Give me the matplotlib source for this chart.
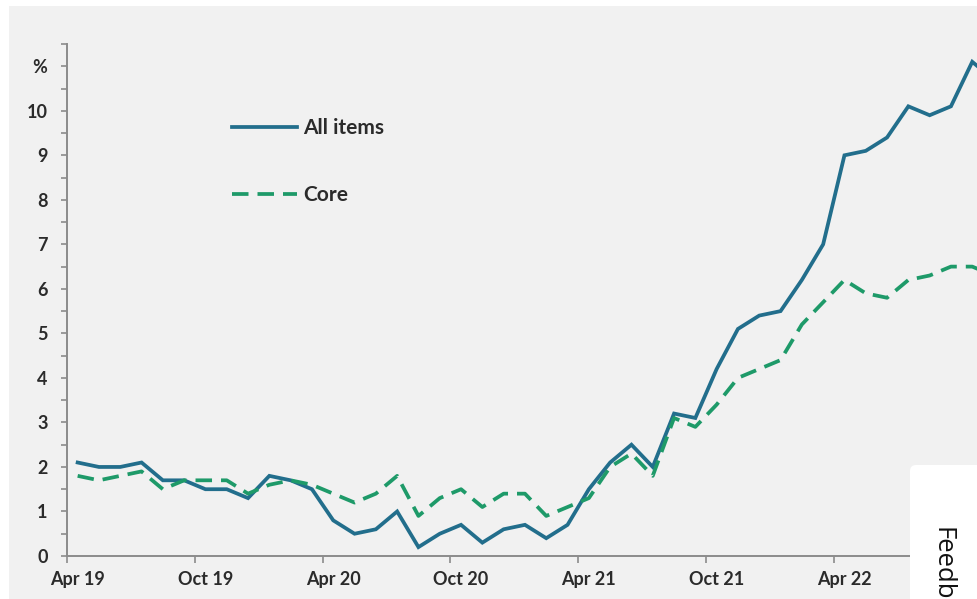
import matplotlib
matplotlib.use('Agg')
import matplotlib.pyplot as plt
from matplotlib.patches import Rectangle, FancyBboxPatch
from matplotlib.transforms import IdentityTransform
import numpy as np

# 数据：2019年4月 - 2022年11月，同比 %
all_items = [2.1, 2.0, 2.0, 2.1, 1.7, 1.7, 1.5, 1.5, 1.3,
             1.8, 1.7, 1.5, 0.8, 0.5, 0.6, 1.0, 0.2, 0.5, 0.7, 0.3, 0.6,
             0.7, 0.4, 0.7, 1.5, 2.1, 2.5, 2.0, 3.2, 3.1, 4.2, 5.1, 5.4,
             5.5, 6.2, 7.0, 9.0, 9.1, 9.4, 10.1, 9.9, 10.1, 11.1, 10.7]
core = [1.8, 1.7, 1.8, 1.9, 1.5, 1.7, 1.7, 1.7, 1.4,
        1.6, 1.7, 1.6, 1.4, 1.2, 1.4, 1.8, 0.9, 1.3, 1.5, 1.1, 1.4,
        1.4, 0.9, 1.1, 1.3, 2.0, 2.3, 1.8, 3.1, 2.9, 3.4, 4.0, 4.2,
        4.4, 5.2, 5.7, 6.2, 5.9, 5.8, 6.2, 6.3, 6.5, 6.5, 6.3]
x_labels = ['Apr 19', 'Oct 19', 'Apr 20', 'Oct 20', 'Apr 21', 'Oct 21', 'Apr 22']
y_labels = ['0', '1', '2', '3', '4', '5', '6', '7', '8', '9', '10', '%']

W, H = 978, 599
blue = '#226E8C'
green = '#1E9A69'
axis_gray = '#8C8C8C'
txt = '#2B2B2B'

plt.rcParams['font.family'] = ['Lato', 'DejaVu Sans']

fig = plt.figure(figsize=(W / 100, H / 100), dpi=100, facecolor='white')
# 灰色底板（放在坐标轴下面）
fig.patches.append(Rectangle((9 / W, 0), 1, 1 - 6 / H, transform=fig.transFigure,
                             facecolor='#F1F1F1', edgecolor='none', zorder=-1))

ax = fig.add_axes([67 / W, 1 - 556 / H, 1 - 67 / W, 512 / H])
ax.set_facecolor('none')

x = np.arange(len(all_items))
ax.plot(x, all_items, color=blue, lw=2.7, label='All items', solid_joinstyle='miter')
ax.plot(x, core, color=green, lw=2.7, dashes=(4.4, 2.4), label='Core')

ax.set_xlim(-0.5, -0.5 + (W - 67) / 21.3)
ax.set_ylim(0, 11.5)

for s in ['top', 'right']:
    ax.spines[s].set_visible(False)
for s in ['left', 'bottom']:
    ax.spines[s].set_color(axis_gray)
    ax.spines[s].set_linewidth(1.4)

# y轴
ax.set_yticks(range(12))
ax.set_yticklabels(y_labels)
ax.set_yticks(np.arange(0.5, 12, 1), minor=True)
ax.tick_params(axis='y', which='both', length=4, width=1.2, color=axis_gray,
               pad=10, labelsize=13, labelcolor=txt)

# x轴：刻度在月份边界，标签在月份中间
ax.set_xticks(np.arange(-0.5, 43, 6))
ax.set_xticklabels([])
ax.set_xticks(np.arange(0, 37, 6), minor=True)
ax.set_xticklabels(x_labels, minor=True)
ax.tick_params(axis='x', which='major', length=5, width=1.2, color=axis_gray)
ax.tick_params(axis='x', which='minor', length=0, pad=10.5, labelsize=13, labelcolor=txt)
for t in ax.get_yticklabels() + ax.get_xticklabels(minor=True):
    t.set_fontweight('bold')

leg = ax.legend(loc='upper left', bbox_to_anchor=(232 / W, 1 - 118 / H),
                bbox_transform=fig.transFigure, frameon=False, borderpad=0,
                borderaxespad=0, handlelength=3.1, handletextpad=0.3,
                labelspacing=2.25, fontsize=15)
for t in leg.get_texts():
    t.set_color(txt)
    t.set_fontweight('bold')

# 右下角 Feedback 白框
fig.patches.append(FancyBboxPatch((910, -20), 100, H - 465 + 20,
                                  boxstyle='round,pad=0,rounding_size=6',
                                  transform=IdentityTransform(), facecolor='white',
                                  edgecolor='none', zorder=5))
fig.text(942 / W, 1 - 527 / H, 'Feedback', rotation=270, ha='center', va='top',
         fontsize=18.5, color='#111111', family=['Open Sans', 'DejaVu Sans'], zorder=6)

fig.savefig('out.png', dpi=100, facecolor=fig.get_facecolor())
